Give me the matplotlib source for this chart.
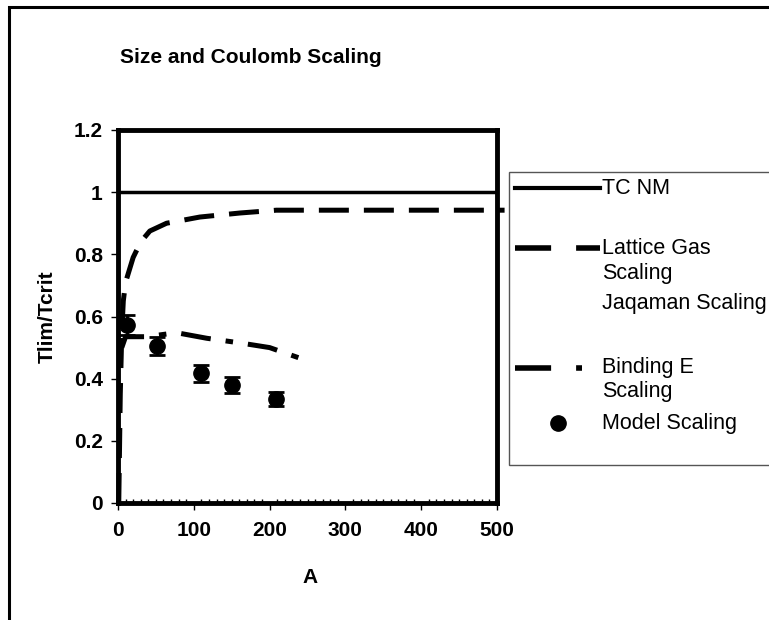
import matplotlib

matplotlib.use("Agg")

import matplotlib.pyplot as plt
from matplotlib.lines import Line2D
from matplotlib.patches import Rectangle
from matplotlib.ticker import MultipleLocator

plt.rcParams["font.family"] = ["Liberation Sans", "DejaVu Sans"]

# data
lattice_a = [1, 3, 5, 7, 10, 20, 30, 42, 64, 108, 161, 209, 300, 400, 510]
lattice_t = [0.0, 0.35, 0.55, 0.65, 0.71, 0.79, 0.84, 0.875, 0.90, 0.92, 0.933, 0.942, 0.942, 0.942, 0.942]

binding_a = [5, 10, 38, 77, 117, 161, 200, 241]
binding_t = [0.50, 0.535, 0.535, 0.548, 0.53, 0.515, 0.50, 0.465]

model_a = [12, 51, 109, 151, 208]
model_t = [0.572, 0.505, 0.417, 0.379, 0.334]
model_err = [0.033, 0.028, 0.027, 0.025, 0.022]

tc_nm = 1.0

y_ticks = [0, 0.2, 0.4, 0.6, 0.8, 1.0, 1.2]
y_labels = ["0", "0.2", "0.4", "0.6", "0.8", "1", "1.2"]
x_ticks = [0, 100, 200, 300, 400, 500]

W, H = 769, 620


def px(x, y):
    """pixel position (top-left origin) -> figure fraction"""
    return x / W, 1 - y / H


fig = plt.figure(figsize=(W / 100, H / 100), dpi=100)
ax = fig.add_axes([118 / W, 1 - 503 / H, 379 / W, 373 / H])

LATTICE = (0, (6, 3))
BINDING = (0, (6, 3, 1.5, 3))

ax.axhline(tc_nm, color="black", linewidth=2.5)
ax.plot(lattice_a, lattice_t, color="black", linewidth=3.6, linestyle=LATTICE, clip_on=False)
ax.plot(binding_a, binding_t, color="black", linewidth=3.6, linestyle=BINDING)
ax.errorbar(model_a, model_t, yerr=model_err, fmt="o", color="black", markersize=11,
            elinewidth=2, capsize=6, capthick=2)

ax.set_xlim(0, 500)
ax.set_ylim(0, 1.2)
ax.set_xticks(x_ticks)
ax.xaxis.set_minor_locator(MultipleLocator(10))
ax.set_yticks(y_ticks, y_labels)
for s in ax.spines.values():
    s.set_linewidth(3.5)
ax.tick_params(axis="both", which="major", direction="out", length=5, width=1,
               labelsize=15, pad=6)
ax.tick_params(axis="x", which="major", pad=8)
ax.tick_params(axis="x", which="minor", direction="in", length=3, width=1)
for lab in ax.get_xticklabels() + ax.get_yticklabels():
    lab.set_fontweight("bold")

ax.set_xlabel("A", fontsize=15, fontweight="bold")
ax.set_ylabel("Tlim/Tcrit", fontsize=15, fontweight="bold")
ax.xaxis.set_label_coords(0.507, -0.175)
ax.yaxis.set_label_coords(-0.162, 0.5)

fig.text(*px(120, 63), "Size and Coulomb Scaling", fontsize=15, fontweight="bold",
         va="baseline", ha="left")

# outer chart frame
fig.add_artist(Rectangle(px(9, 640), 800 / W, 633 / H, transform=fig.transFigure,
                         fill=False, edgecolor="black", linewidth=2.2))

# legend box, drawn Excel-style
fig.add_artist(Rectangle(px(509, 465), 300 / W, (465 - 172) / H, transform=fig.transFigure,
                         facecolor="white", edgecolor="#555555", linewidth=1))


def handle(x0, x1, y, **kw):
    (fx0, fy), (fx1, _) = px(x0, y), px(x1, y)
    fig.add_artist(Line2D([fx0, fx1], [fy, fy], transform=fig.transFigure,
                          color="black", **kw))


handle(515, 600, 188, linewidth=3)
handle(515, 600, 248, linewidth=4, linestyle=(0, (6.5, 4.5)))
handle(515, 582, 368, linewidth=4, linestyle=(0, (6.5, 4.5, 2, 4.5)))
fx, fy = px(558, 423)
fig.add_artist(Line2D([fx], [fy], transform=fig.transFigure, marker="o", color="black",
                      markersize=11, linestyle="none"))

for y, text in [(188, "TC NM"), (248, "Lattice Gas"), (273, "Scaling"),
                (303, "Jaqaman Scaling"), (368, "Binding E"), (392, "Scaling"),
                (423, "Model Scaling")]:
    fig.text(*px(602, y), text, fontsize=15.5, va="center", ha="left")

fig.savefig("out.png", dpi=100)
